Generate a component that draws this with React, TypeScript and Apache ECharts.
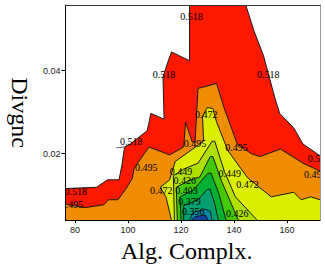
import React, { useEffect, useRef } from "react";
import * as echarts from "echarts";

// Axis ranges and tick labels
const X_MIN = 76.4;
const X_MAX = 172.4;
const Y_MIN = 0.004;
const Y_MAX = 0.0558;
const xTicks = [80, 100, 120, 140, 160];
const yTicks = [0.02, 0.04];

// Contour levels
const levels = [0.518, 0.495, 0.472, 0.449, 0.426, 0.403, 0.379, 0.356, 0.333];

// Contour lines (data coordinates: [Alg. Complx., Divgnc])
const c518Left: number[][] = [
  [76.4, 0.0116], [88.1, 0.0119], [92.3, 0.0137], [96.6, 0.0137], [97.7, 0.0172],
  [98.7, 0.0216], [100.8, 0.0223], [107.2, 0.0255], [107.9, 0.0274], [108.6, 0.0297],
  [113.6, 0.0283], [113.2, 0.0385], [115.0, 0.042], [116.4, 0.0445], [123.2, 0.0424],
  [123.2, 0.0558],
];
const c518Right: number[][] = [
  [144.4, 0.0558], [147.6, 0.0494], [151.1, 0.0436], [155.4, 0.0334], [157.2, 0.0297],
  [162.5, 0.0262], [166.0, 0.0223], [172.4, 0.0195],
];
const c518Tail: number[][] = [[95.5, 0.0214], [98.7, 0.0216]];
const c495: number[][] = [
  [76.4, 0.0079], [83.8, 0.007], [90.9, 0.0077], [92.7, 0.0089], [96.2, 0.0089],
  [99.1, 0.0114], [101.6, 0.014], [102.3, 0.0165], [107.9, 0.0216], [115.7, 0.0197],
  [121.0, 0.0216], [121.7, 0.0276], [124.2, 0.0228], [125.3, 0.0228], [126.4, 0.0357],
  [133.4, 0.0369], [136.3, 0.0309], [141.2, 0.0223], [146.5, 0.02], [149.7, 0.0193],
  [157.5, 0.0211], [166.0, 0.0177], [172.4, 0.0158],
];
const c472: number[][] = [
  [116.4, 0.004], [114.3, 0.0096], [112.2, 0.0119], [115.7, 0.0137], [117.8, 0.0181],
  [128.5, 0.023], [128.1, 0.029], [129.9, 0.0311], [132.0, 0.0309], [133.4, 0.0276],
  [137.7, 0.0207], [145.1, 0.0142], [154.0, 0.0096], [162.5, 0.0107], [165.3, 0.0089],
  [168.9, 0.0096], [172.4, 0.0089],
];
const c449: number[][] = [
  [117.5, 0.004], [117.1, 0.0147], [121.0, 0.0163], [126.4, 0.0177], [131.7, 0.023],
  [132.7, 0.023], [136.3, 0.0158], [140.5, 0.0096], [148.7, 0.004],
];
const c426: number[][] = [
  [118.6, 0.004], [118.2, 0.0119], [122.8, 0.0135], [127.1, 0.0144], [131.0, 0.0193],
  [132.0, 0.0193], [135.2, 0.0135], [141.6, 0.004],
];
const c403: number[][] = [
  [120.0, 0.004], [119.6, 0.0096], [124.6, 0.0112], [130.2, 0.0153], [131.3, 0.0153],
  [134.1, 0.0107], [137.0, 0.004],
];
const c379: number[][] = [
  [121.0, 0.004], [121.0, 0.0075], [126.4, 0.0089], [129.9, 0.0114], [131.0, 0.0114],
  [132.7, 0.0079], [134.1, 0.004],
];
const c356: number[][] = [
  [123.2, 0.004], [124.6, 0.0059], [129.2, 0.0066], [131.0, 0.0061], [131.7, 0.004],
];
const c333: number[][] = [
  [123.9, 0.004], [125.6, 0.0049], [129.2, 0.0052], [130.2, 0.004],
];

// Contour labels
const labelText = [
  "0.518", "0.518", "0.518", "0.518", "0.518", "0.495", "0.518", "0.495",
  "0.472", "0.495", "0.495", "0.495", "0.472", "0.449", "0.426", "0.403",
  "0.379", "0.356", "0.449", "0.472", "0.426",
];
const labelX = [
  123.9, 113.6, 152.9, 101.2, 80.3, 78.9, 172.0, 170.6,
  129.5, 125.3, 140.9, 106.9, 112.5, 120.0, 121.4, 122.1,
  123.2, 124.6, 138.4, 145.1, 141.2,
];
const labelY = [
  0.0531, 0.039, 0.039, 0.023, 0.0109, 0.0077, 0.0188, 0.0149,
  0.0295, 0.0225, 0.0216, 0.0167, 0.0112, 0.0158, 0.0135, 0.0112,
  0.0084, 0.0061, 0.0153, 0.0126, 0.0056,
];

const bandColors = [
  "#ff1800", // 0.495 - 0.518
  "#f08c00", // 0.472 - 0.495
  "#dcee00", // 0.449 - 0.472
  "#b0e000", // 0.426 - 0.449
  "#44c800", // 0.403 - 0.426
  "#00b030", // 0.379 - 0.403
  "#00a070", // 0.356 - 0.379
  "#0088a8", // 0.333 - 0.356
  "#1040a0", // < 0.333
];

export default function App() {
  const ref = useRef<HTMLDivElement>(null);

  useEffect(() => {
    if (!ref.current) return;
    const chart = echarts.init(ref.current, undefined, { renderer: "svg" });

    const fills: { poly: number[][]; color: string }[] = [
      { poly: [[X_MIN, Y_MIN], [X_MIN, Y_MAX], [X_MAX, Y_MAX], [X_MAX, Y_MIN]], color: bandColors[0] },
      { poly: [...c518Left, [X_MIN, Y_MAX]], color: "#ffffff" },
      { poly: [...c518Right, [X_MAX, Y_MAX]], color: "#ffffff" },
      { poly: [...c495, [X_MAX, Y_MIN], [X_MIN, Y_MIN]], color: bandColors[1] },
      { poly: [...c472, [X_MAX, Y_MIN]], color: bandColors[2] },
      { poly: c449, color: bandColors[3] },
      { poly: c426, color: bandColors[4] },
      { poly: c403, color: bandColors[5] },
      { poly: c379, color: bandColors[6] },
      { poly: c356, color: bandColors[7] },
      { poly: c333, color: bandColors[8] },
    ];
    const lines = [c518Left, c518Right, c495, c472, c449, c426, c403, c379, c356, c333];

    const axisCommon = {
      type: "value" as const,
      z: 10,
      splitLine: { show: false },
    };

    chart.setOption({
      animation: false,
      backgroundColor: "#ffffff",
      grid: { left: 49, top: 5, right: 5, bottom: 39, containLabel: false },
      xAxis: [
        {
          ...axisCommon,
          min: X_MIN,
          max: X_MAX,
          position: "bottom",
          axisLine: { show: true, lineStyle: { color: "#000", width: 1 } },
          axisTick: { show: true, length: 3, customValues: xTicks, lineStyle: { color: "#000" } },
          axisLabel: {
            customValues: xTicks,
            fontFamily: "Liberation Sans",
            fontSize: 9,
            color: "#222",
            margin: 5,
          },
          name: "Alg. Complx.",
          nameLocation: "middle",
          nameGap: 8,
          nameTextStyle: {
            fontFamily: "Liberation Serif",
            fontSize: 24,
            color: "#000",
            padding: [0, 12, 0, 0],
          },
        },
        {
          ...axisCommon,
          min: X_MIN,
          max: X_MAX,
          position: "top",
          axisLine: { show: true, lineStyle: { color: "#333", width: 1 } },
          axisTick: { show: false },
          axisLabel: { show: false },
        },
      ],
      yAxis: [
        {
          ...axisCommon,
          min: Y_MIN,
          max: Y_MAX,
          position: "left",
          axisLine: { show: true, lineStyle: { color: "#000", width: 1 } },
          axisTick: { show: true, length: 4, customValues: yTicks, lineStyle: { color: "#000" } },
          axisLabel: {
            customValues: yTicks,
            formatter: (v: number) => v.toFixed(2),
            fontFamily: "Liberation Sans",
            fontSize: 9,
            color: "#222",
            margin: 5,
          },
          name: "Divgnc",
          nameLocation: "middle",
          nameRotate: -90,
          nameGap: 27,
          nameTextStyle: { fontFamily: "Liberation Serif", fontSize: 24, color: "#000" },
        },
        {
          ...axisCommon,
          min: Y_MIN,
          max: Y_MAX,
          position: "right",
          axisLine: { show: true, lineStyle: { color: "#999", width: 1 } },
          axisTick: { show: false },
          axisLabel: { show: false },
        },
      ],
      series: [
        {
          type: "custom",
          xAxisIndex: 0,
          yAxisIndex: 0,
          clip: true,
          data: [[X_MIN, Y_MIN]],
          renderItem: (params: any, api: any) => {
            const children: any[] = [];
            fills.forEach((f) => {
              children.push({
                type: "polygon",
                shape: { points: f.poly.map((p) => api.coord(p)) },
                style: { fill: f.color, stroke: "none" },
              });
            });
            lines.forEach((l) => {
              children.push({
                type: "polyline",
                shape: { points: l.map((p) => api.coord(p)) },
                style: { stroke: "#1a1a1a", lineWidth: 1, fill: "none" },
              });
            });
            children.push({
              type: "polyline",
              shape: { points: c518Tail.map((p) => api.coord(p)) },
              style: { stroke: "#806080", lineWidth: 1, fill: "none" },
            });
            labelText.forEach((t, i) => {
              const [px, py] = api.coord([labelX[i], labelY[i]]);
              children.push({
                type: "text",
                x: px,
                y: py,
                style: {
                  text: t,
                  fill: "#000",
                  fontFamily: "Liberation Serif",
                  fontSize: 10,
                  align: "center",
                  verticalAlign: "middle",
                },
              });
            });
            const cs = params.coordSys;
            return {
              type: "group",
              clipPath: { type: "rect", shape: { x: cs.x, y: cs.y, width: cs.width, height: cs.height } },
              children,
            };
          },
        },
      ],
    });

    return () => chart.dispose();
  }, []);

  return (
    <div
      ref={ref}
      style={{ position: "fixed", left: 0, top: 0, width: 325, height: 268, background: "#fff" }}
    />
  );
}
